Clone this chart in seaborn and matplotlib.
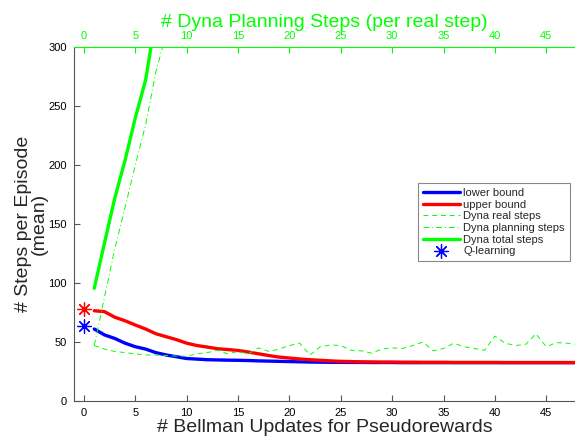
import numpy as np
import pandas as pd
import matplotlib
matplotlib.use("Agg")
import matplotlib.pyplot as plt
import seaborn as sns

# ---------------- data ----------------
bellman_x = list(range(1, 49))
lower_bound = [61, 56, 53, 49, 46, 44, 41, 39, 37.5, 36, 35.5, 35, 34.8, 34.6, 34.5,
               34.3, 34.0, 33.8, 33.6, 33.4, 33.2, 33.0, 32.9, 32.8, 32.8, 32.7, 32.7,
               32.6, 32.6, 32.6, 32.5, 32.5, 32.5, 32.5, 32.5, 32.5, 32.5, 32.5, 32.5,
               32.5, 32.5, 32.5, 32.5, 32.5, 32.5, 32.5, 32.5, 32.5]
upper_bound = [76.5, 75.7, 71, 68, 64.4, 61, 57, 54.5, 52, 49, 47, 45.7, 44.3, 43.6,
               42.8, 41.5, 40, 38.5, 37.2, 36.4, 35.6, 35, 34.5, 34, 33.6, 33.4, 33.2,
               33.1, 33.0, 33.0, 32.9, 32.9, 32.8, 32.8, 32.8, 32.7, 32.7, 32.7, 32.7,
               32.7, 32.6, 32.6, 32.6, 32.6, 32.6, 32.6, 32.6, 32.6]

dyna_x = list(range(1, 49))
dyna_real = [47, 44, 42, 41, 40, 39, 39, 38.5, 38, 38, 40, 41, 43, 40, 42, 40, 45, 42,
             44, 47, 49, 39, 46, 47.5, 47, 43, 42.5, 40.5, 44, 45, 44.5, 47, 50, 42.5,
             44.5, 49, 46, 44.5, 43, 55, 49, 47, 48, 57, 46, 49.5, 49, 48]
dyna_plan_x = [1, 2, 3, 4, 5, 6, 7, 8, 9]
dyna_planning = [47, 88, 129, 164, 200, 234, 279, 311, 345]
dyna_total_x = [1, 2, 3, 4, 5, 6, 7, 8]
dyna_total = [95.5, 134, 172, 204, 240, 272, 325, 360]

q_x = [0]
q_lower = [63.5]
q_upper = [78]

x_ticks = list(range(0, 50, 5))
y_ticks = list(range(0, 301, 50))

# ---------------- style ----------------
sns.set_style("ticks")
plt.rcParams["font.family"] = ["Liberation Sans", "DejaVu Sans"]

GREEN = "#00ff00"
GRAY = "#555555"
STAR = (8, 2, 0)

fig = plt.figure(figsize=(5.75, 4.38), dpi=100)
ax = fig.add_axes([74 / 575, 37 / 438, (575 - 74) / 575, (401 - 47) / 438])
ax2 = ax.twiny()

xlim = (-0.97, 47.8)

sns.lineplot(x=bellman_x, y=lower_bound, ax=ax, color="blue", linewidth=2.4,
             label="lower bound")
sns.lineplot(x=bellman_x, y=upper_bound, ax=ax, color="red", linewidth=2.4,
             label="upper bound")
sns.scatterplot(x=q_x, y=q_upper, ax=ax, marker=STAR, s=95, color="red",
                edgecolor="red", linewidth=0.9, label="_nolegend_", zorder=5)
sns.scatterplot(x=q_x, y=q_lower, ax=ax, marker=STAR, s=95, color="blue",
                edgecolor="blue", linewidth=0.9, label="Q-learning", zorder=5)

sns.lineplot(x=dyna_x, y=dyna_real, ax=ax2, color=GREEN, linewidth=0.7,
             linestyle=(0, (5, 4)), label="Dyna real steps")
sns.lineplot(x=dyna_plan_x, y=dyna_planning, ax=ax2, color=GREEN, linewidth=0.7,
             linestyle=(0, (6, 3, 1, 3)), label="Dyna planning steps")
sns.lineplot(x=dyna_total_x, y=dyna_total, ax=ax2, color=GREEN, linewidth=2.4,
             label="Dyna total steps")

for a in (ax, ax2):
    a.set_xlim(*xlim)
    a.set_ylim(0, 300)
    a.set_xticks(x_ticks)
    if a.get_legend() is not None:
        a.get_legend().remove()

ax.set_yticks(y_ticks)
ax.tick_params(axis="both", direction="in", length=4, width=0.8,
               labelsize=8, pad=5)
ax.tick_params(axis="x", colors=GRAY, labelcolor="black")
ax.tick_params(axis="y", colors=GRAY, labelcolor="black")
ax2.tick_params(axis="x", direction="in", length=4, width=0.8, colors=GREEN,
                labelcolor=GREEN, labelsize=8, pad=4)

for s in ("right",):
    ax.spines[s].set_visible(False)
    ax2.spines[s].set_visible(False)
ax.spines["left"].set_color(GRAY)
ax.spines["bottom"].set_color(GRAY)
ax.spines["top"].set_visible(False)
ax2.spines["top"].set_color(GREEN)
ax2.spines["left"].set_visible(False)
ax2.spines["bottom"].set_visible(False)

ax.set_xlabel("# Bellman Updates for Pseudorewards", fontsize=14, labelpad=1)
ax.set_ylabel("# Steps per Episode\n(mean)", fontsize=14, linespacing=0.95)
ax.yaxis.set_label_coords(-0.052, 0.5)
ax2.set_xlabel("# Dyna Planning Steps (per real step)", fontsize=14, color=GREEN,
               labelpad=3)

h1, l1 = ax.get_legend_handles_labels()
h2, l2 = ax2.get_legend_handles_labels()
hd = dict(zip(l1 + l2, h1 + h2))
order = ["lower bound", "upper bound", "Dyna real steps", "Dyna planning steps",
         "Dyna total steps", "Q-learning"]
leg = ax2.legend([hd[k] for k in order], order, loc="upper left",
                 bbox_to_anchor=((418 - 74) / 501, (401 - 183) / 354),
                 fontsize=8, frameon=True, fancybox=False, framealpha=1,
                 edgecolor="#888888", handlelength=3.3, labelspacing=0.15,
                 borderpad=0.45, handletextpad=0.3, borderaxespad=0)
leg.get_frame().set_linewidth(0.8)

fig.savefig("out.png", dpi=100)
